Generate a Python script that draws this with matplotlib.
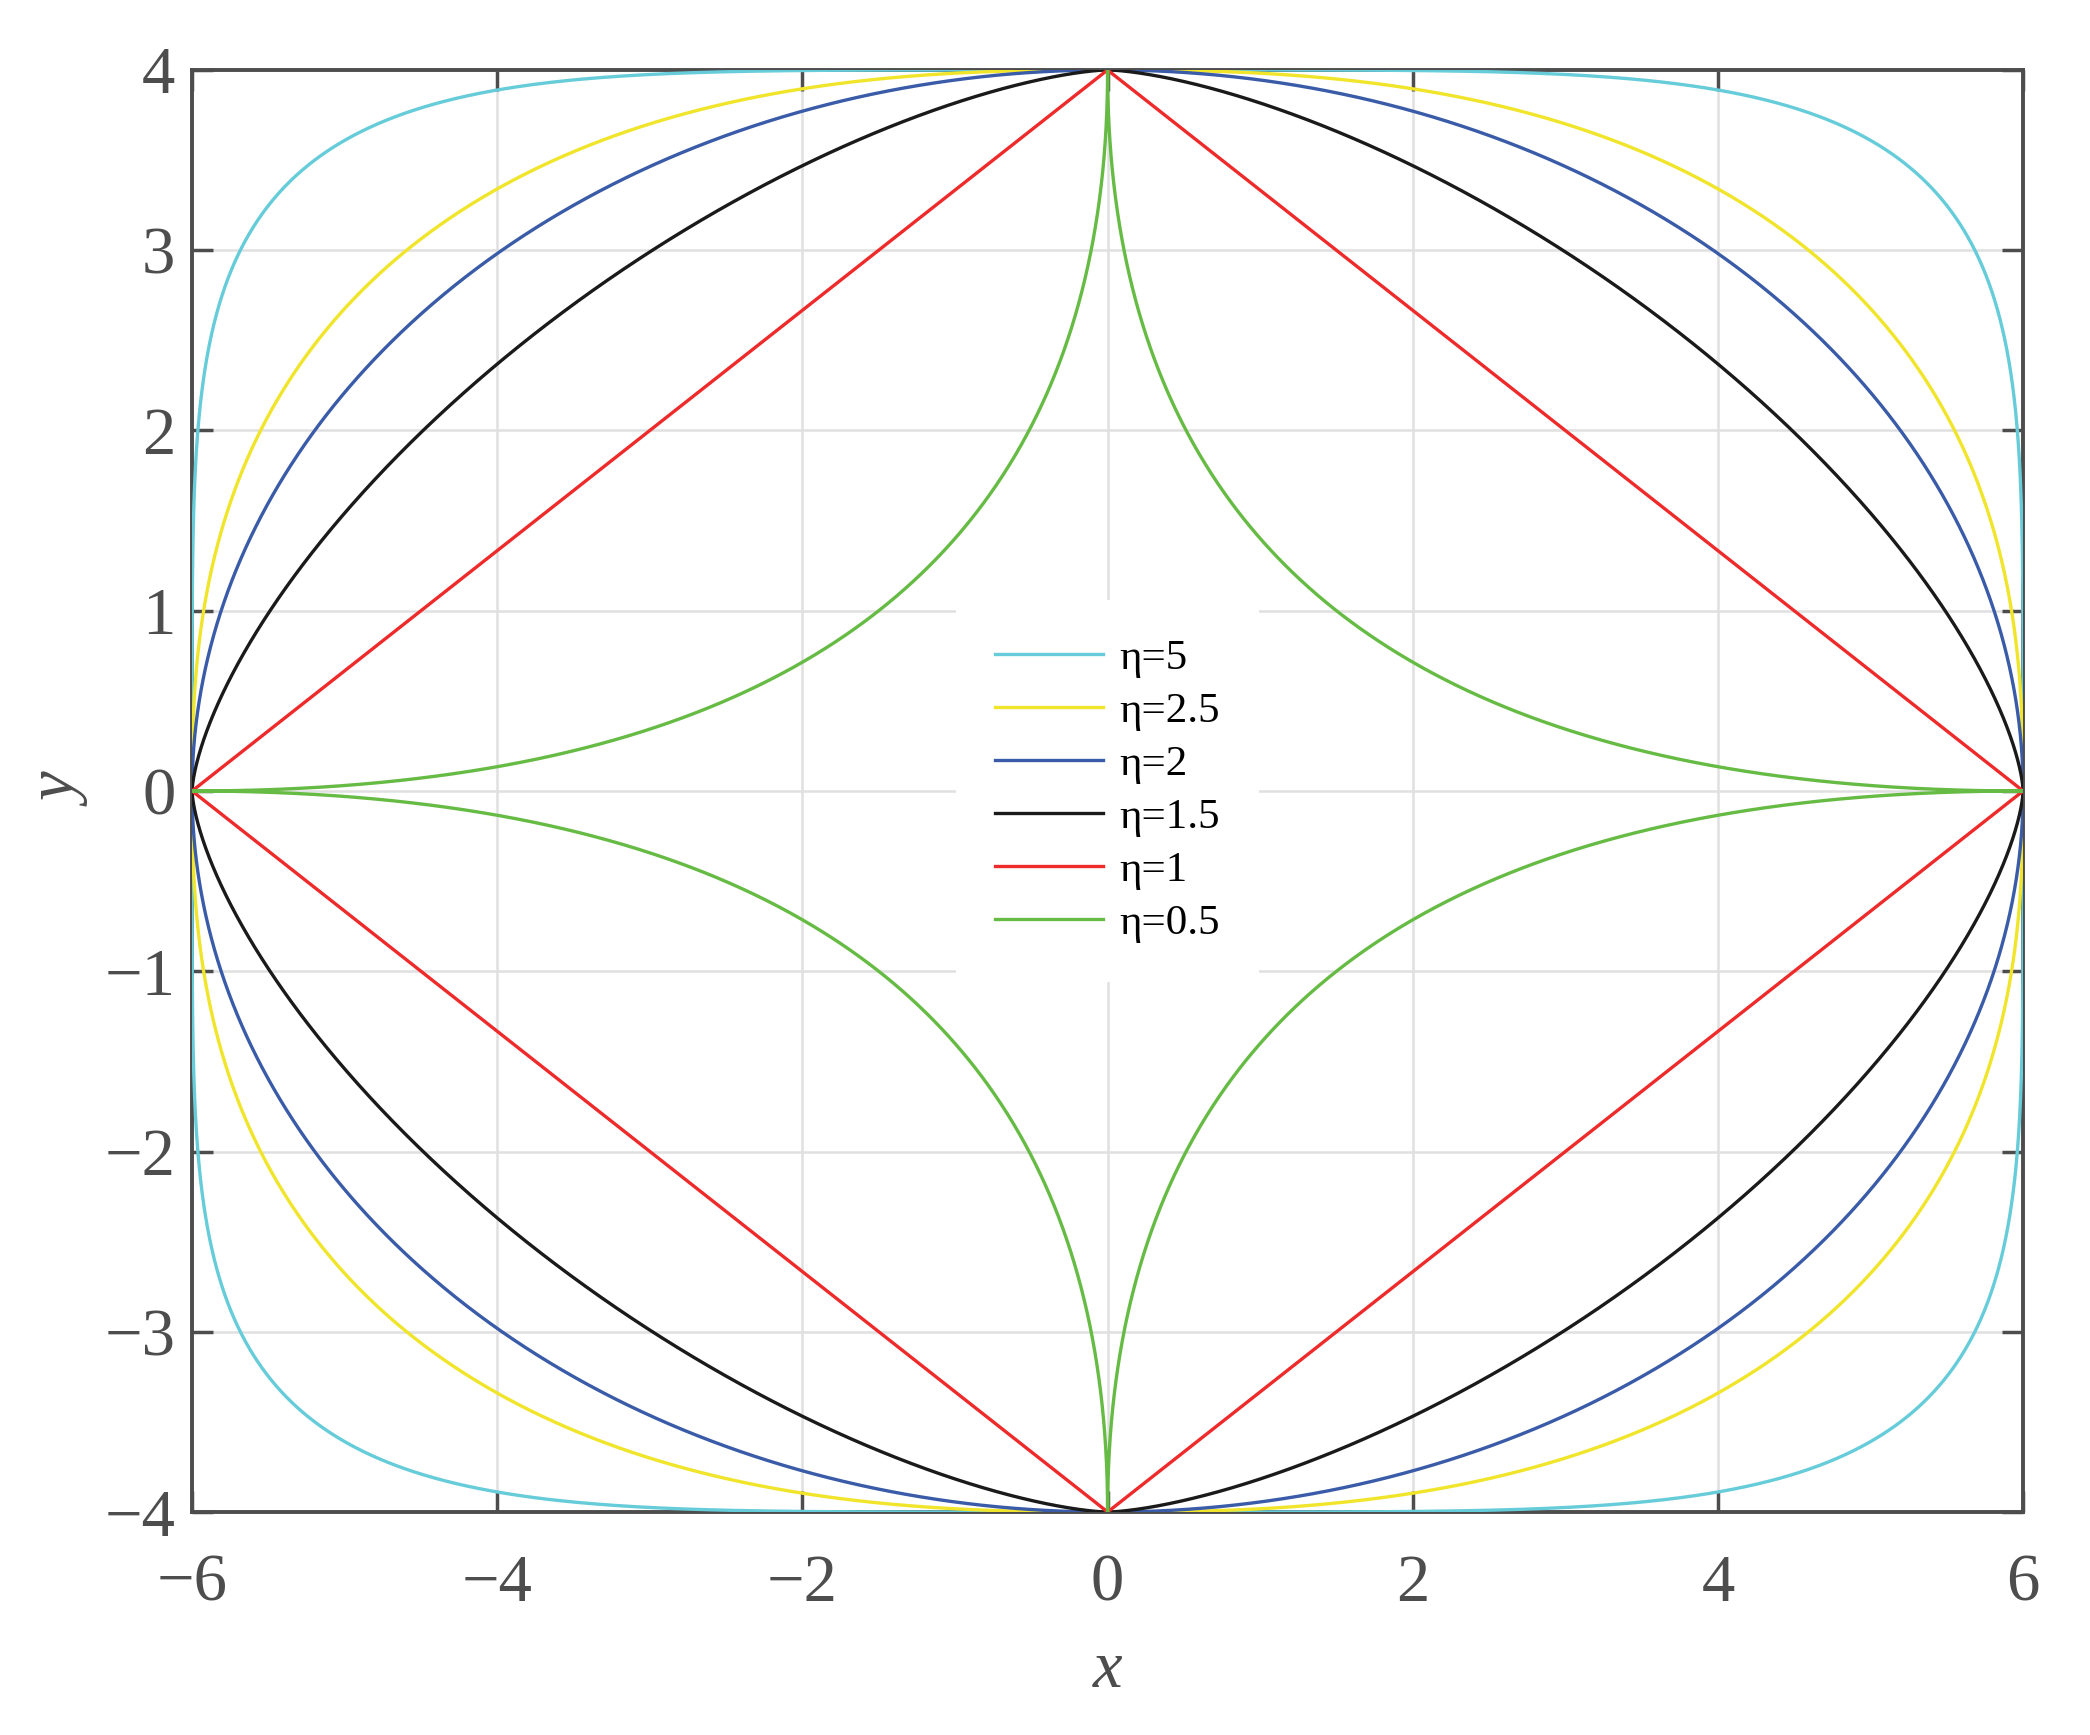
import numpy as np
import matplotlib
matplotlib.use('Agg')
import matplotlib.pyplot as plt

# 폰트: Times 계열 대체
plt.rcParams['font.family'] = ['Liberation Serif', 'DejaVu Serif']

# 데이터: 초타원 |x/a|^eta + |y/b|^eta = 1
a_half = 6.0
b_half = 4.0
eta_values = [5, 2.5, 2, 1.5, 1, 0.5]
labels = ['η=5', 'η=2.5', 'η=2', 'η=1.5', 'η=1', 'η=0.5']
colors = ['#66CCD9', '#F0E52A', '#3A5BA8', '#1A1A1A', '#EE2A2A', '#66BB44']

x_ticks = [-6, -4, -2, 0, 2, 4, 6]
y_ticks = [-4, -3, -2, -1, 0, 1, 2, 3, 4]

axis_color = '#4D4D4D'

fig = plt.figure(figsize=(20.9, 17.35), dpi=100)
ax = fig.add_axes([0.0919, 0.1285, 0.8761, 0.8312])

t = np.linspace(0, 2 * np.pi, 4001)
for eta, lab, col in zip(eta_values, labels, colors):
    c, s = np.cos(t), np.sin(t)
    xs = a_half * np.sign(c) * np.abs(c) ** (2.0 / eta)
    ys = b_half * np.sign(s) * np.abs(s) ** (2.0 / eta)
    ax.plot(xs, ys, color=col, lw=2.4, label=lab, zorder=3)

ax.set_xlim(-6, 6)
ax.set_ylim(-4, 4)
ax.set_xticks(x_ticks)
ax.set_yticks(y_ticks)
ax.grid(True, color='#E0E0E0', lw=1.8, zorder=0)
ax.set_axisbelow(True)

ax.tick_params(direction='in', length=15, width=2.5, colors=axis_color,
               labelsize=48, top=True, right=True, pad=12)
ax.tick_params(axis='x', pad=30)
for sp in ax.spines.values():
    sp.set_color(axis_color)
    sp.set_linewidth(2.8)

ax.set_xlabel('x', fontsize=48, style='italic', color=axis_color, labelpad=18)
ax.set_ylabel('y', fontsize=48, style='italic', color=axis_color, labelpad=8)

leg = ax.legend(loc='center', bbox_to_anchor=(0.5, 0.5), fontsize=31,
                frameon=True, edgecolor='none', facecolor='white', framealpha=1,
                handlelength=2.5, handletextpad=0.4, labelspacing=0.32,
                borderpad=0.9)
leg.set_zorder(5)

plt.savefig('out.png', dpi=100)
